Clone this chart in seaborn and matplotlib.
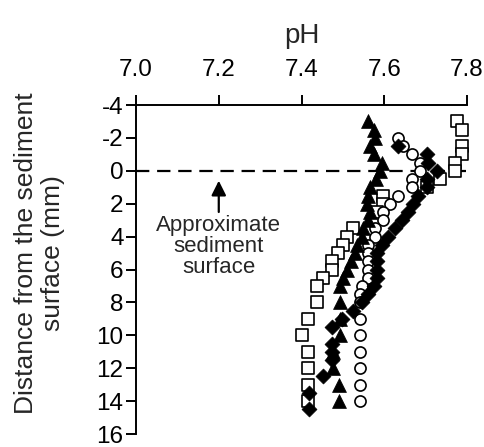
import numpy as np
import pandas as pd
import matplotlib
matplotlib.use("Agg")
import matplotlib.pyplot as plt
import seaborn as sns

# depth (mm) and pH for each profile
tri_depth = [-3, -2.5, -2, -1.5, -1, -0.5, 0, 0.5, 1, 1.5, 2, 2.5, 3, 3.5, 4, 4.5, 5, 5.5, 6, 6.5,
             7, 8, 9, 10, 11, 12, 13, 14]
tri_ph = [7.56, 7.575, 7.578, 7.565, 7.575, 7.595, 7.59, 7.58, 7.565, 7.56, 7.558, 7.565, 7.56, 7.548,
          7.545, 7.535, 7.53, 7.52, 7.51, 7.50, 7.492, 7.492, 7.492, 7.492, 7.476, 7.476, 7.49, 7.49]

circ_depth = [-2, -1.5, -1, -0.5, 0, 0.5, 1, 1.5, 2, 2.5, 3, 3.5, 4, 4.5, 5, 5.5, 6, 6.5, 7,
              7.5, 8, 9, 10, 11, 12, 13, 14]
circ_ph = [7.633, 7.645, 7.667, 7.686, 7.686, 7.667, 7.667, 7.633, 7.614, 7.597, 7.597, 7.578, 7.578,
           7.56, 7.56, 7.56, 7.56, 7.56, 7.546, 7.541, 7.541, 7.541, 7.541, 7.541, 7.541, 7.541, 7.541]

dia_depth = [-1.5, -1, -0.5, 0, 0.5, 1, 1.5, 2, 2.5, 3, 3.5, 4, 4.5, 5, 5.5, 6, 6.5, 7, 7.5, 8,
             8.5, 9, 9.5, 10.5, 11, 11.5, 12.5, 13.5, 14.5]
dia_ph = [7.633, 7.703, 7.706, 7.727, 7.703, 7.703, 7.682, 7.669, 7.657, 7.643, 7.626, 7.609, 7.595,
          7.582, 7.582, 7.582, 7.582, 7.575, 7.561, 7.545, 7.524, 7.498, 7.474, 7.474, 7.474, 7.474,
          7.452, 7.418, 7.418]

sq_depth = [-3, -2.5, -1.5, -1, -0.5, 0, 0.5, 1, 1.5, 2, 2.5, 3.5, 4, 4.5, 5, 5.5, 6, 6.5, 7,
            8, 9, 10, 11, 12, 13, 14]
sq_ph = [7.776, 7.788, 7.788, 7.788, 7.771, 7.771, 7.735, 7.703, 7.597, 7.597, 7.582, 7.524, 7.51,
         7.50, 7.488, 7.474, 7.474, 7.452, 7.437, 7.437, 7.416, 7.401, 7.416, 7.416, 7.416, 7.416]

sns.set_style("ticks")
plt.rcParams['font.family'] = ['Liberation Sans', 'DejaVu Sans']
plt.rcParams['axes.unicode_minus'] = False

fig = plt.figure(figsize=(4.84, 4.47), dpi=100)
ax = fig.add_axes([0.281, 0.029, 0.684, 0.736])

sns.scatterplot(x=sq_ph, y=sq_depth, marker='s', s=68, facecolor='white', edgecolor='black',
                linewidth=1.2, ax=ax, clip_on=False, zorder=3)
sns.scatterplot(x=circ_ph, y=circ_depth, marker='o', s=64, facecolor='white', edgecolor='black',
                linewidth=1.2, ax=ax, clip_on=False, zorder=3)
sns.scatterplot(x=dia_ph, y=dia_depth, marker='D', s=58, color='black', edgecolor='black',
                linewidth=0.5, ax=ax, clip_on=False, zorder=3)
sns.scatterplot(x=tri_ph, y=tri_depth, marker='^', s=100, color='black', edgecolor='black',
                linewidth=0.5, ax=ax, clip_on=False, zorder=3)

ax.axhline(0, color='black', lw=1.6, dashes=(6, 3.5), zorder=2)
ax.annotate("Approximate\nsediment\nsurface", xy=(7.2, 0.6), xytext=(7.2, 2.7),
            ha='center', va='top', fontsize=16, linespacing=1.0,
            arrowprops=dict(arrowstyle='-|>', color='black', lw=1.6, mutation_scale=22,
                            shrinkA=0, shrinkB=0))

ax.set_xlim(7.0, 7.8)
ax.set_ylim(16, -4)
ax.set_xticks([7.0, 7.2, 7.4, 7.6, 7.8])
ax.set_xticklabels(["7.0", "7.2", "7.4", "7.6", "7.8"])
ax.set_yticks(range(-4, 17, 2))
ax.xaxis.tick_top()
ax.xaxis.set_label_position('top')
ax.tick_params(axis='both', direction='out', length=7, width=1.4, labelsize=17.5, color='black',
               labelcolor='black')
ax.tick_params(axis='x', pad=10)
ax.tick_params(axis='y', pad=2)
for side in ['right', 'bottom']:
    ax.spines[side].set_visible(False)
for side in ['left', 'top']:
    ax.spines[side].set_linewidth(1.4)
    ax.spines[side].set_color('black')

ax.set_xlabel("pH", fontsize=20, labelpad=12)
ax.set_ylabel("Distance from the sediment\nsurface (mm)", fontsize=19, linespacing=1.15)
ax.yaxis.set_label_coords(-0.214, 0.55)

fig.savefig("out.png", dpi=100)
